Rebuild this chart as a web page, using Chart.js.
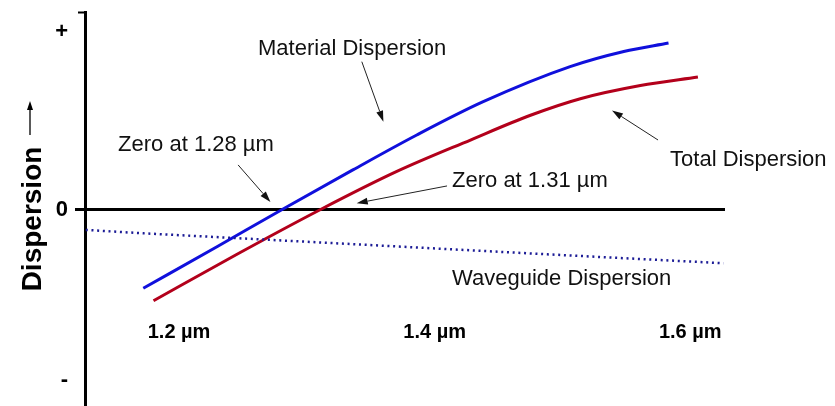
<!DOCTYPE html>
<html>
<head>
<meta charset="utf-8">
<script src="https://cdn.jsdelivr.net/npm/chart.js@4/dist/chart.umd.min.js"></script>
<style>
  html, body { margin: 0; padding: 0; background: #fff; }
  #wrap { width: 835px; height: 406px; position: relative; }
</style>
</head>
<body>
<div id="wrap"><canvas id="chart"></canvas></div>
<script>
// Wavelength (µm) and dispersion (arbitrary units) for each curve
const wavelengthMaterial = [1.172, 1.23, 1.28, 1.336, 1.386, 1.438, 1.506, 1.548, 1.583];
const dispersionMaterial = [-0.44, -0.205, 0, 0.225, 0.421, 0.608, 0.805, 0.89, 0.938];

const wavelengthTotal = [1.18, 1.245, 1.31, 1.37, 1.428, 1.475, 1.514, 1.561, 1.606];
const dispersionTotal = [-0.51, -0.25, 0, 0.215, 0.393, 0.532, 0.625, 0.699, 0.747];

const wavelengthWaveguide = [1.127, 1.172, 1.339, 1.488, 1.626];
const dispersionWaveguide = [-0.112, -0.131, -0.193, -0.249, -0.299];

// Axis ticks
const xTickValues = [1.2, 1.4, 1.6];
const xTickLabels = ['1.2 µm', '1.4 µm', '1.6 µm'];
const yTickValues = [-0.955, 0, 1];
const yTickLabels = ['-', '0', '+'];

const FONT = '"Liberation Sans", Arial, Helvetica, sans-serif';

function toPoints(xs, ys) {
  return xs.map((x, i) => ({ x: x, y: ys[i] }));
}

// Callout texts and their arrows, placed in data coordinates
const notes = [
  { text: 'Material Dispersion', x: 1.2618, y: 0.871 },
  { text: 'Zero at 1.28 µm', x: 1.1523, y: 0.331 },
  { text: 'Total Dispersion', x: 1.5842, y: 0.249 },
  { text: 'Zero at 1.31 µm', x: 1.4136, y: 0.131 },
  { text: 'Waveguide Dispersion', x: 1.4136, y: -0.421 }
];
const arrows = [
  { from: [1.343, 0.833], to: [1.3599, 0.496] },
  { from: [1.2462, 0.253], to: [1.2715, 0.045] },
  { from: [1.5748, 0.393], to: [1.5388, 0.559] },
  { from: [1.4097, 0.135], to: [1.339, 0.038] }
];

function drawArrow(ctx, x1, y1, x2, y2, headLen, headHalf) {
  const ang = Math.atan2(y2 - y1, x2 - x1);
  const bx = x2 - headLen * Math.cos(ang);
  const by = y2 - headLen * Math.sin(ang);
  ctx.beginPath();
  ctx.moveTo(x1, y1);
  ctx.lineTo(bx, by);
  ctx.stroke();
  ctx.beginPath();
  ctx.moveTo(x2, y2);
  ctx.lineTo(bx + headHalf * Math.sin(ang), by - headHalf * Math.cos(ang));
  ctx.lineTo(bx - headHalf * Math.sin(ang), by + headHalf * Math.cos(ang));
  ctx.closePath();
  ctx.fill();
}

const decorations = {
  id: 'decorations',
  afterDraw(chart) {
    const { ctx, chartArea, scales } = chart;
    const x = scales.x, y = scales.y;
    ctx.save();

    // small cap at the top of the vertical axis
    ctx.strokeStyle = '#000';
    ctx.lineWidth = 2;
    ctx.beginPath();
    ctx.moveTo(chartArea.left - 7, chartArea.top + 0.5);
    ctx.lineTo(chartArea.left, chartArea.top + 0.5);
    ctx.stroke();

    // wavelength labels
    ctx.fillStyle = '#000';
    ctx.font = 'bold 20px ' + FONT;
    ctx.textAlign = 'center';
    ctx.textBaseline = 'alphabetic';
    const rowY = y.getPixelForValue(-0.719);
    xTickValues.forEach((v, i) => ctx.fillText(xTickLabels[i], x.getPixelForValue(v), rowY));

    // callout texts
    ctx.font = '22px ' + FONT;
    ctx.textAlign = 'left';
    ctx.fillStyle = '#111';
    notes.forEach(n => ctx.fillText(n.text, x.getPixelForValue(n.x), y.getPixelForValue(n.y)));

    // callout arrows
    ctx.strokeStyle = '#222';
    ctx.fillStyle = '#111';
    ctx.lineWidth = 1;
    arrows.forEach(a => drawArrow(ctx,
      x.getPixelForValue(a.from[0]), y.getPixelForValue(a.from[1]),
      x.getPixelForValue(a.to[0]), y.getPixelForValue(a.to[1]), 11, 3.5));

    // vertical axis title with an upward arrow
    const tx = chartArea.left - 44;
    const ty = 219;
    ctx.save();
    ctx.translate(tx, ty);
    ctx.rotate(-Math.PI / 2);
    ctx.font = 'bold 28px ' + FONT;
    ctx.fillStyle = '#000';
    ctx.textAlign = 'center';
    ctx.textBaseline = 'alphabetic';
    ctx.fillText('Dispersion', 0, 0);
    ctx.restore();
    ctx.strokeStyle = '#000';
    ctx.fillStyle = '#000';
    ctx.lineWidth = 1.3;
    drawArrow(ctx, 30, 135, 30, 101, 9, 3);

    ctx.restore();
  }
};

new Chart(document.getElementById('chart'), {
  type: 'line',
  data: {
    datasets: [
      {
        label: 'Waveguide Dispersion',
        data: toPoints(wavelengthWaveguide, dispersionWaveguide),
        borderColor: '#1c1c96',
        borderWidth: 2.5,
        borderDash: [2, 3.7],
        pointRadius: 0,
        tension: 0,
        fill: false
      },
      {
        label: 'Material Dispersion',
        data: toPoints(wavelengthMaterial, dispersionMaterial),
        borderColor: '#1010dc',
        borderWidth: 3,
        pointRadius: 0,
        cubicInterpolationMode: 'monotone',
        fill: false
      },
      {
        label: 'Total Dispersion',
        data: toPoints(wavelengthTotal, dispersionTotal),
        borderColor: '#b3001b',
        borderWidth: 3,
        pointRadius: 0,
        cubicInterpolationMode: 'monotone',
        fill: false
      }
    ]
  },
  options: {
    responsive: true,
    maintainAspectRatio: false,
    animation: false,
    events: [],
    layout: { padding: { left: 0, top: 12, right: 110, bottom: 0 } },
    plugins: {
      legend: { display: false },
      tooltip: { enabled: false },
      title: { display: false }
    },
    scales: {
      x: {
        type: 'linear',
        min: 1.1264,
        max: 1.6272,
        display: false
      },
      y: {
        type: 'linear',
        min: -1.101,
        max: 1.112,
        position: 'left',
        afterFit(scale) {
          scale.width = 85;
          scale.paddingTop = 0;
          scale.paddingBottom = 0;
        },
        afterBuildTicks(scale) { scale.ticks = yTickValues.map(v => ({ value: v })); },
        border: { display: true, color: '#000', width: 3 },
        grid: {
          drawOnChartArea: true,
          drawTicks: true,
          tickLength: 10,
          color: c => (c.tick && c.tick.value === 0 ? '#000' : 'rgba(0,0,0,0)'),
          lineWidth: c => (c.tick && c.tick.value === 0 ? 3 : 0)
        },
        ticks: {
          padding: 7,
          color: '#000',
          font: { family: FONT, size: 22, weight: 'bold' },
          callback: (v, i) => yTickLabels[i]
        }
      }
    }
  },
  plugins: [decorations]
});
</script>
</body>
</html>
